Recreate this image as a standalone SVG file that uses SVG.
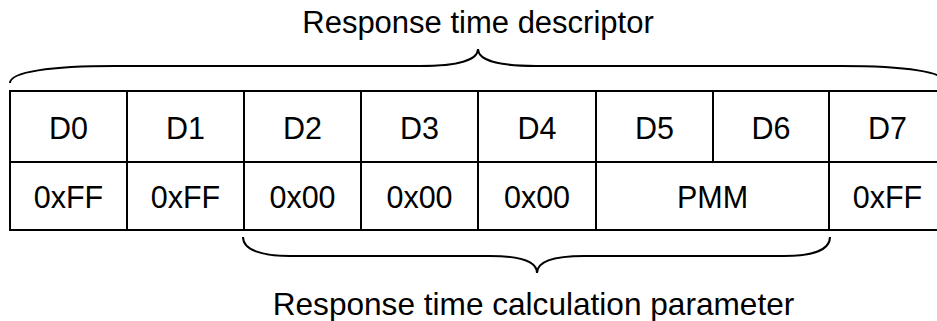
<svg xmlns="http://www.w3.org/2000/svg" width="937" height="321" viewBox="0 0 937 321">
<style>
.t{font-family:"Liberation Sans",Arial,sans-serif;font-size:31px;fill:#000;text-anchor:middle}
.c{font-family:"Liberation Sans",Arial,sans-serif;font-size:30.5px;fill:#000;text-anchor:middle}
.ln{stroke:#000;stroke-width:2;fill:none}
.br{stroke:#000;stroke-width:2;fill:none}
</style>
<rect width="937" height="321" fill="#fff"/>
<g id="labels">
<text class="t" x="478" y="33">Response time descriptor</text>
<text class="t" x="533.5" y="315" style="font-size:31.6px">Response time calculation parameter</text>
</g>
<g id="table">
<rect class="ln" x="10" y="91" width="936" height="139"/>
<line class="ln" x1="10" y1="162" x2="946" y2="162"/>
<line class="ln" x1="127" y1="91" x2="127" y2="230"/>
<line class="ln" x1="244" y1="91" x2="244" y2="230"/>
<line class="ln" x1="361" y1="91" x2="361" y2="230"/>
<line class="ln" x1="478" y1="91" x2="478" y2="230"/>
<line class="ln" x1="596" y1="91" x2="596" y2="230"/>
<line class="ln" x1="713" y1="91" x2="713" y2="162"/>
<line class="ln" x1="829" y1="91" x2="829" y2="230"/>
</g>
<g id="d0"><text class="c" x="68.5" y="139">D0</text><text class="c" x="68.5" y="208">0xFF</text></g>
<g id="d1"><text class="c" x="185.5" y="139">D1</text><text class="c" x="185.5" y="208">0xFF</text></g>
<g id="d2"><text class="c" x="302.5" y="139">D2</text><text class="c" x="302.5" y="208">0x00</text></g>
<g id="d3"><text class="c" x="419.5" y="139">D3</text><text class="c" x="419.5" y="208">0x00</text></g>
<g id="d4"><text class="c" x="537" y="139">D4</text><text class="c" x="537" y="208">0x00</text></g>
<g id="d5"><text class="c" x="654.5" y="139">D5</text></g>
<g id="d6"><text class="c" x="771" y="139">D6</text></g>
<g id="pmm"><text class="c" x="712.5" y="208">PMM</text></g>
<g id="d7"><text class="c" x="887.5" y="139">D7</text><text class="c" x="887.5" y="208">0xFF</text></g>
<g id="connectors">
<path class="br" d="M10,83 C10,72 50,66 115,66 L420,66 C458,66 478,60 478,49 C478,60 498,66 536,66 L841,66 C906,66 946,72 946,83"/>
<path class="br" d="M243,237 C243,250 262,256 290,256 L490,256 C522,256 537,262 537,273 C537,262 552,256 584,256 L784,256 C812,256 830,250 830,237"/>
</g>
</svg>
